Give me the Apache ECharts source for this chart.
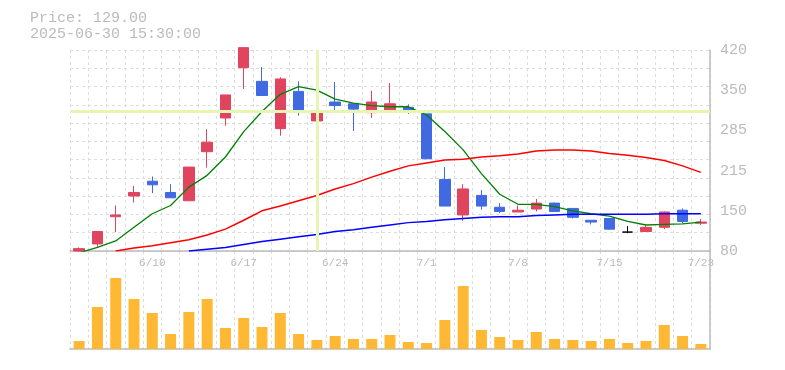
<!DOCTYPE html>
<html>
<head>
<meta charset="utf-8">
<script src="https://cdn.jsdelivr.net/npm/echarts@6/dist/echarts.min.js"></script>
<style>
html,body{margin:0;padding:0;background:#fff;}
#chart{width:785px;height:370px;}
</style>
</head>
<body>
<div id="chart"></div>
<script>
var dates = ['6/4','6/5','6/6','6/9','6/10','6/11','6/12','6/13','6/16','6/17','6/18','6/19','6/20','6/23','6/24','6/25','6/26','6/27','6/30','7/1','7/2','7/3','7/4','7/7','7/8','7/9','7/10','7/11','7/14','7/15','7/16','7/17','7/18','7/22','7/23'];
var opens  = [80, 92, 138, 173, 198, 179, 165, 248, 305, 390, 367, 287, 350, 300, 332, 329, 314, 316, 323, 312, 201, 141, 174, 154, 146, 151, 161, 152, 132, 135, 112, 113, 120, 149, 127];
var closes = [84, 113, 141, 179, 192, 170, 222, 264, 344, 424, 343, 371, 316, 317, 326, 320, 332, 329, 316, 236, 156, 185, 156, 147, 149, 161, 147, 137, 129, 117, 112, 120, 146, 130, 129];
var lows   = [79, 87, 112, 162, 178, 170, 165, 221, 292, 354, 343, 275, 309, 300, 316, 283, 305, 316, 312, 236, 156, 131, 150, 144, 146, 147, 147, 135, 125, 116, 110, 113, 117, 127, 124];
var highs  = [86, 113, 157, 190, 206, 193, 222, 286, 344, 424, 391, 374, 367, 344, 366, 329, 351, 364, 328, 312, 222, 193, 183, 161, 157, 168, 162, 152, 132, 136, 122, 123, 147, 152, 134];
var volumes = [8000, 42000, 71000, 50000, 36000, 15000, 37000, 50000, 21000, 31000, 22000, 36000, 15000, 9000, 13000, 10000, 10000, 14000, 7000, 6000, 29000, 63000, 19000, 12000, 9000, 17000, 10000, 9000, 8000, 10000, 6000, 8000, 24000, 13000, 5000];
var maShort = [77, 86, 97, 120, 143, 157, 188, 208, 239, 282, 316, 345, 358, 352, 337, 330, 326, 324, 324, 310, 282, 251, 211, 176, 159, 159, 155, 148, 143, 139, 130, 124, 125, 126, 129];
var maMid = [null, null, 80, 85, 89, 94, 99, 107, 117, 132, 148, 156, 165, 174, 185, 194, 205, 215, 224, 229, 234, 235, 239, 241, 244, 249, 251, 251, 249, 245, 242, 238, 233, 224, 213];
var maLong = [null, null, null, null, null, null, 80, 83, 86, 91, 96, 100, 104, 108, 113, 116, 120, 124, 128, 130, 133, 135, 137, 138, 138, 140, 141, 142, 142, 142, 142, 142, 143, 143, 143];
var priceTicks = [80, 420, 68];
var crossIndex = 13;
var crossPrice = 317;
var stampText = '2025-06-30 15:30:00';

var UP = '#e0445f', DOWN = '#4169e1', DOJI = '#000000';
var GRID = '#dddddd', AXIS = '#bbbbbb', TXT = '#bbbbbb';
var MONO = '"Liberation Mono", "DejaVu Sans Mono", monospace';

var candleData = dates.map(function (d, i) {
  var item = { value: [opens[i], closes[i], lows[i], highs[i]] };
  if (opens[i] === closes[i]) {
    item.itemStyle = { color: DOJI, color0: DOJI, borderColor: DOJI, borderColor0: DOJI, borderColorDoji: DOJI };
  }
  return item;
});

var chart = echarts.init(document.getElementById('chart'), null, { renderer: 'canvas' });
chart.setOption({
  animation: false,
  backgroundColor: '#ffffff',
  graphic: [{
    type: 'text', left: 30, top: 10,
    style: {
      text: 'Price: ' + closes[closes.length - 1].toFixed(2) + '\n' + stampText,
      font: '15px ' + MONO, fill: TXT, lineHeight: 16
    }
  }],
  grid: [
    { left: 70, right: 75, top: 50, height: 201 },
    { left: 70, right: 75, top: 251, bottom: 21 }
  ],
  xAxis: [
    {
      type: 'category', gridIndex: 0, data: dates, boundaryGap: true,
      axisLine: { show: true, lineStyle: { color: AXIS, width: 1.5 } },
      axisTick: { show: false, interval: 0 },
      axisLabel: {
        interval: function (i) { return i >= 4 && (i - 4) % 5 === 0; },
        color: TXT, fontFamily: MONO, fontSize: 11, margin: 7
      },
      splitLine: { show: true, interval: 0, lineStyle: { color: GRID, type: [3, 3], width: 1 } }
    },
    {
      type: 'category', gridIndex: 1, data: dates, boundaryGap: true,
      axisLine: { show: true, lineStyle: { color: AXIS, width: 1.5 } },
      axisTick: { show: false, interval: 0 },
      axisLabel: { show: false },
      splitLine: { show: true, interval: 0, lineStyle: { color: GRID, type: [3, 3], width: 1 } }
    }
  ],
  yAxis: [
    {
      type: 'value', gridIndex: 0, position: 'right',
      min: priceTicks[0], max: priceTicks[1], interval: priceTicks[2],
      axisLine: { show: true, lineStyle: { color: AXIS, width: 1.5 } },
      axisTick: { show: false },
      splitLine: { show: false },
      axisLabel: {
        color: TXT, fontFamily: MONO, fontSize: 15, margin: 10, padding: [6, 0, 0, 0],
        formatter: function (v) { return String(Math.round(v / 5) * 5); }
      }
    },
    {
      type: 'value', gridIndex: 0, position: 'left', min: 0, max: 11, interval: 1,
      axisLine: { show: false }, axisTick: { show: false }, axisLabel: { show: false },
      splitLine: { show: true, lineStyle: { color: GRID, type: [3, 3], width: 1 } }
    },
    {
      type: 'value', gridIndex: 1, position: 'right', min: 0, max: 98000,
      axisLine: { show: true, lineStyle: { color: AXIS, width: 1.5 } },
      axisTick: { show: false }, axisLabel: { show: false }, splitLine: { show: false }
    }
  ],
  series: [
    {
      type: 'line', xAxisIndex: 0, yAxisIndex: 0, z: 1, silent: true,
      data: dates.map(function () { return null; }),
      markLine: {
        silent: true, symbol: 'none', label: { show: false },
        lineStyle: { color: '#e6f5b4', width: 3, type: 'solid' },
        data: [{ xAxis: crossIndex }, { yAxis: crossPrice }]
      }
    },
    {
      type: 'candlestick', xAxisIndex: 0, yAxisIndex: 0, z: 2, clip: false,
      barWidth: 11,
      itemStyle: { color: UP, color0: DOWN, borderColor: UP, borderColor0: DOWN, borderColorDoji: DOJI, borderWidth: 1 },
      data: candleData
    },
    {
      type: 'line', xAxisIndex: 0, yAxisIndex: 0, z: 3, data: maShort,
      symbol: 'none', smooth: false, lineStyle: { color: '#008000', width: 1.3 }
    },
    {
      type: 'line', xAxisIndex: 0, yAxisIndex: 0, z: 3, data: maMid,
      symbol: 'none', smooth: false, lineStyle: { color: '#ff0000', width: 1.5 }
    },
    {
      type: 'line', xAxisIndex: 0, yAxisIndex: 0, z: 3, data: maLong,
      symbol: 'none', smooth: false, lineStyle: { color: '#0000ff', width: 1.5 }
    },
    {
      type: 'bar', xAxisIndex: 1, yAxisIndex: 2, data: volumes, barWidth: 11,
      itemStyle: { color: '#ffb833' }
    }
  ]
});
</script>
</body>
</html>
